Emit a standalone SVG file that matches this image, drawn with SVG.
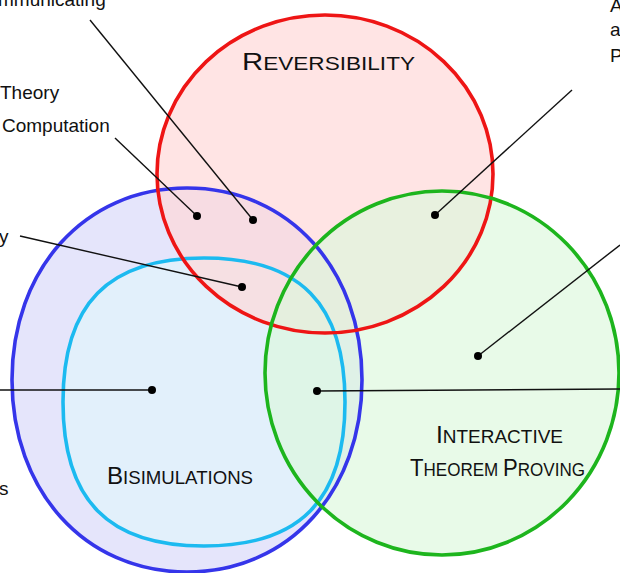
<svg xmlns="http://www.w3.org/2000/svg" width="620" height="573" viewBox="0 0 620 573">
<style>
.lbl{font-family:"Liberation Sans","DejaVu Sans",sans-serif;font-size:19px;fill:#111}
.cap{font-family:"Liberation Sans","DejaVu Sans",sans-serif;fill:#111}
.big{font-size:24px}
.sm{font-size:18.5px}
.ln{stroke:#111;stroke-width:1.4;fill:none}
.dot{fill:#000}
.edge{fill:none;stroke-width:3.6}
</style>
<rect width="620" height="573" fill="#ffffff"/>
<g id="bisim-outer">
<path d="M187,188 C290,188 362,270 362,380 C362,490 290,572 187,572 C84,572 12,490 12,380 C12,270 84,188 187,188 Z" fill="#e5e5fb"/>
</g>
<g id="bisim-inner">
<path d="M204,258 C300,258 345,304 345,402 C345,500 300,546 204,546 C108,546 63,500 63,402 C63,304 108,258 204,258 Z" fill="#e2f0fb"/>
</g>
<g id="reversibility">
<ellipse cx="325" cy="174" rx="168" ry="159" fill="#ffd8d8" fill-opacity="0.7"/>
</g>
<g id="itp">
<ellipse cx="442" cy="373" rx="177" ry="182" fill="#dcf7dc" fill-opacity="0.65"/>
</g>
<g id="outlines">
<path class="edge" stroke="#3535ea" d="M187,188 C290,188 362,270 362,380 C362,490 290,572 187,572 C84,572 12,490 12,380 C12,270 84,188 187,188 Z"/>
<path class="edge" stroke="#1cbaf0" d="M204,258 C300,258 345,304 345,402 C345,500 300,546 204,546 C108,546 63,500 63,402 C63,304 108,258 204,258 Z"/>
<ellipse class="edge" stroke="#ee1515" cx="325" cy="174" rx="168" ry="159"/>
<ellipse class="edge" stroke="#1db51d" cx="442" cy="373" rx="177" ry="182"/>
</g>
<g id="titles">
<text class="cap" x="242" y="70" textLength="173" lengthAdjust="spacingAndGlyphs"><tspan class="big">R</tspan><tspan class="sm">EVERSIBILITY</tspan></text>
<text class="cap" x="107" y="484" textLength="146" lengthAdjust="spacingAndGlyphs"><tspan class="big">B</tspan><tspan class="sm">ISIMULATIONS</tspan></text>
<text class="cap" x="436" y="443" textLength="127" lengthAdjust="spacingAndGlyphs"><tspan class="big">I</tspan><tspan class="sm">NTERACTIVE</tspan></text>
<text class="cap" x="410" y="476" textLength="175" lengthAdjust="spacingAndGlyphs"><tspan class="big">T</tspan><tspan class="sm">HEOREM </tspan><tspan class="big">P</tspan><tspan class="sm">ROVING</tspan></text>
</g>
<g id="connectors">
<line class="ln" x1="90" y1="20" x2="253" y2="220"/>
<line class="ln" x1="115" y1="138" x2="197" y2="216"/>
<line class="ln" x1="20" y1="236" x2="242" y2="287"/>
<line class="ln" x1="572" y1="90" x2="435" y2="215"/>
<line class="ln" x1="620" y1="245" x2="478" y2="356"/>
<line class="ln" x1="0" y1="390" x2="152" y2="390"/>
<line class="ln" x1="317" y1="391" x2="620" y2="389"/>
<circle class="dot" cx="253" cy="220" r="4"/>
<circle class="dot" cx="197" cy="216" r="4"/>
<circle class="dot" cx="242" cy="287" r="4"/>
<circle class="dot" cx="435" cy="215" r="4"/>
<circle class="dot" cx="478" cy="356" r="4"/>
<circle class="dot" cx="152" cy="390" r="4"/>
<circle class="dot" cx="317" cy="391" r="4"/>
</g>
<g id="side-labels">
<text class="lbl" x="-2" y="6">mmunicating</text>
<text class="lbl" x="0" y="99">Theory</text>
<text class="lbl" x="2" y="132">Computation</text>
<text class="lbl" x="-1" y="243">y</text>
<text class="lbl" x="-1" y="495">s</text>
<text class="lbl" x="610" y="12">A</text>
<text class="lbl" x="610" y="36">a</text>
<text class="lbl" x="610" y="62">P</text>
</g>
</svg>
